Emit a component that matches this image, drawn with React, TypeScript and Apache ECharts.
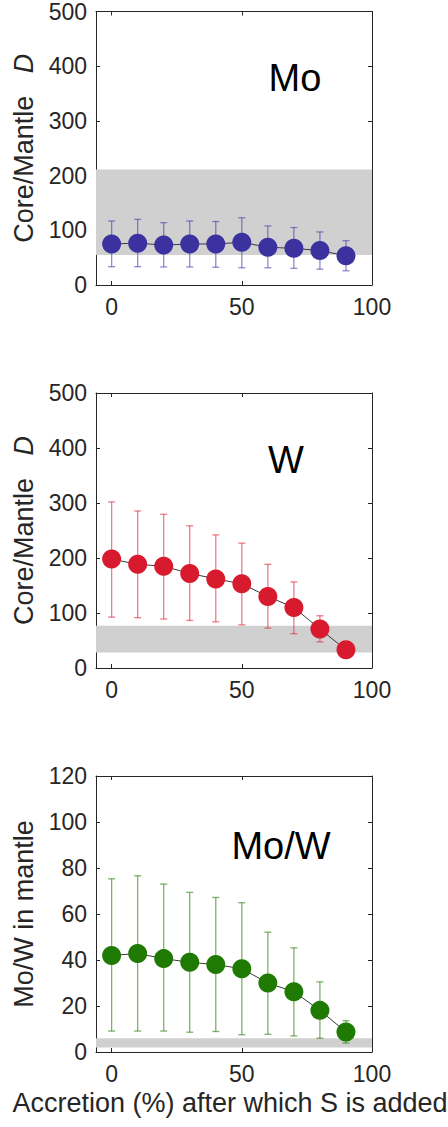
import React, { useEffect, useRef } from "react";
import * as echarts from "echarts";

// ---- Data ----
const accretion = [0, 10, 20, 30, 40, 50, 60, 70, 80, 90];
const xTicks = [0, 50, 100];

const moD = [75, 76.5, 73, 75, 75, 78, 69, 67, 63, 53.5];
const moLow = [33.5, 33.5, 33, 33, 32.5, 31.5, 31.5, 30.5, 29, 26];
const moHigh = [117, 120, 114, 117, 116, 123, 108, 105, 97, 81];
const moBand = [55, 211];

const wD = [198, 188.5, 185, 172, 162, 153, 130, 110, 71, 33];
const wLow = [92.5, 91.5, 89, 86.5, 84, 78.5, 72.5, 62.5, 47.5, 29];
const wHigh = [302, 285.5, 279.5, 258.5, 242, 227, 188.5, 156.5, 95, 37];
const wBand = [28, 77];

const ratio = [42, 42.8, 40.6, 39, 38, 36.2, 30, 26.2, 18.1, 8.7];
const ratioLow = [9.1, 9.1, 9.1, 8.6, 8.9, 7.5, 7.7, 7.0, 6.0, 3.9];
const ratioHigh = [75.3, 76.6, 73, 69.4, 67.2, 64.9, 52.1, 45.3, 30.5, 13.6];
const ratioBand = [2, 6];

const panelLabels = ["Mo", "W", "Mo/W"];
const yTitles = ["Core/Mantle   {i|D}", "Core/Mantle   {i|D}", "Mo/W in mantle"];
const xTitle = "Accretion (%) after which S is added";

const FONT = "Liberation Sans, Arial, Helvetica, sans-serif";
const AXIS_COLOR = "#262626";

export default function App() {
  const ref = useRef<HTMLDivElement>(null);

  useEffect(() => {
    if (!ref.current) return;
    const chart = echarts.init(ref.current, null, { renderer: "svg" });

    const panels = [
      { top: 11, height: 274, max: 500, interval: 100, mean: moD, lo: moLow, hi: moHigh, band: moBand, color: "#3b32a0", err: "rgba(70,60,175,0.6)" },
      { top: 393, height: 275, max: 500, interval: 100, mean: wD, lo: wLow, hi: wHigh, band: wBand, color: "#d71a2e", err: "rgba(220,40,60,0.6)" },
      { top: 776, height: 276, max: 120, interval: 20, mean: ratio, lo: ratioLow, hi: ratioHigh, band: ratioBand, color: "#1f7a04", err: "rgba(40,125,10,0.6)" },
    ];

    const grid: any[] = [];
    const xAxis: any[] = [];
    const yAxis: any[] = [];
    const series: any[] = [];

    panels.forEach((p, i) => {
      grid.push({ left: 96, top: p.top, width: 276, height: p.height, containLabel: false });
      const axisLine = { show: true, onZero: false, lineStyle: { color: AXIS_COLOR, width: 1 } };
      const tick = { show: true, inside: true, length: 4, lineStyle: { color: AXIS_COLOR, width: 1 } };
      xAxis.push({
        type: "value", gridIndex: i, position: "bottom", min: -6, max: 100,
        axisLine, axisTick: { ...tick, customValues: xTicks },
        axisLabel: { show: true, customValues: xTicks, fontSize: 23, color: AXIS_COLOR, fontFamily: FONT, margin: 10 },
        splitLine: { show: false },
      });
      xAxis.push({
        type: "value", gridIndex: i, position: "top", min: -6, max: 100,
        axisLine, axisTick: { ...tick, customValues: xTicks },
        axisLabel: { show: false, customValues: xTicks }, splitLine: { show: false },
      });
      yAxis.push({
        type: "value", gridIndex: i, position: "left", min: 0, max: p.max, interval: p.interval,
        axisLine, axisTick: tick,
        axisLabel: { fontSize: 23, color: AXIS_COLOR, fontFamily: FONT, margin: 9 },
        splitLine: { show: false },
        name: yTitles[i], nameLocation: "middle", nameRotate: 90, nameGap: 55,
        nameTextStyle: {
          fontSize: 27, color: AXIS_COLOR, fontFamily: FONT,
          rich: { i: { fontSize: 27, fontStyle: "italic", color: AXIS_COLOR, fontFamily: FONT } },
        },
      });
      yAxis.push({
        type: "value", gridIndex: i, position: "right", min: 0, max: p.max, interval: p.interval,
        axisLine, axisTick: tick, axisLabel: { show: false }, splitLine: { show: false },
      });

      const errData = accretion.map((x, k) => [x, p.lo[k], p.hi[k]]);
      series.push({
        type: "custom", xAxisIndex: i * 2, yAxisIndex: i * 2, z: 3,
        data: errData, encode: { x: 0, y: [1, 2] },
        renderItem: (params: any, api: any) => {
          const x = api.value(0);
          const pLo = api.coord([x, api.value(1)]);
          const pHi = api.coord([x, api.value(2)]);
          const w = 3.5;
          const style = { stroke: p.err, lineWidth: 1.3, fill: "none" };
          return {
            type: "group",
            children: [
              { type: "line", shape: { x1: pHi[0], y1: pHi[1], x2: pLo[0], y2: pLo[1] }, style },
              { type: "line", shape: { x1: pHi[0] - w, y1: pHi[1], x2: pHi[0] + w, y2: pHi[1] }, style },
              { type: "line", shape: { x1: pLo[0] - w, y1: pLo[1], x2: pLo[0] + w, y2: pLo[1] }, style },
            ],
          };
        },
      });
      series.push({
        type: "line", xAxisIndex: i * 2, yAxisIndex: i * 2, z: 4,
        data: accretion.map((x, k) => [x, p.mean[k]]),
        symbol: "circle", symbolSize: 19,
        lineStyle: { color: "#3a3a3a", width: 1 },
        itemStyle: { color: p.color, borderWidth: 0 },
        markArea: {
          silent: true,
          itemStyle: { color: "#d0d0d0", opacity: 1 },
          data: [[{ yAxis: p.band[0] }, { yAxis: p.band[1] }]],
          label: { show: false },
        },
      });
    });

    const labelPos = [
      { x: 295, y: 78 },
      { x: 286, y: 460 },
      { x: 281, y: 846 },
    ];

    const graphic: any[] = panelLabels.map((t, i) => ({
      type: "text", x: labelPos[i].x, y: labelPos[i].y, z: 10,
      style: { text: t, fontSize: 38, fontFamily: FONT, fill: "#000", textAlign: "center", textVerticalAlign: "middle" },
    }));
    graphic.push({
      type: "text", x: 230, y: 1103, z: 10,
      style: { text: xTitle, fontSize: 27, fontFamily: FONT, fill: AXIS_COLOR, textAlign: "center", textVerticalAlign: "middle" },
    });

    chart.setOption({
      animation: false,
      backgroundColor: "#ffffff",
      textStyle: { fontFamily: FONT },
      grid, xAxis, yAxis, series, graphic,
    });

    return () => chart.dispose();
  }, []);

  return (
    <div
      ref={ref}
      style={{ position: "fixed", left: 0, top: 0, width: 448, height: 1127, background: "#fff" }}
    />
  );
}
